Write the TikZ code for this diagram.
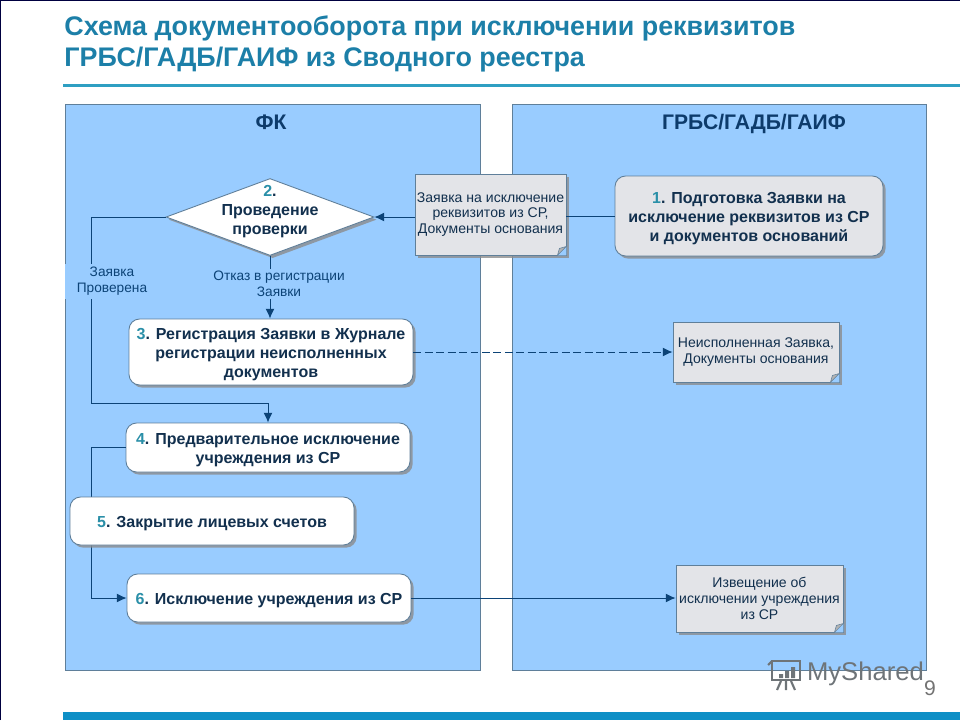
\documentclass[tikz,border=0pt]{standalone}
\usepackage{fontspec}
\setmainfont{Liberation Sans}
\usetikzlibrary{shapes.geometric,shadows,arrows.meta}
\definecolor{lane_blue}{HTML}{99CCFF}
\definecolor{lane_edge}{HTML}{5F7F9A}
\definecolor{title_teal}{HTML}{1C7FA8}
\definecolor{rule_teal}{HTML}{2E9FC2}
\definecolor{bar_blue}{HTML}{0E8FC6}
\definecolor{link_blue}{HTML}{0C4377}
\definecolor{head_blue}{HTML}{0D3B6B}
\definecolor{text_navy}{HTML}{12304E}
\definecolor{num_teal}{HTML}{2A8FA8}
\definecolor{doc_grey}{HTML}{E3E4E8}
\definecolor{mark_grey}{HTML}{6E7478}
\newcommand{\stepno}[1]{\rule{0pt}{9.4pt}{\color{num_teal}#1}.}
\begin{document}
\begin{tikzpicture}[
    % One unit is one pixel of the slide
    x=0.02cm, y=-0.02cm,
    >={Latex[length=5.5pt,width=5pt]},
    % Define styles for the elements
    lane_style/.style={draw=lane_edge, fill=lane_blue, line width=0.5pt},
    lane_head/.style={font=\fontsize{12}{14}\selectfont\bfseries, text=head_blue},
    step_style/.style={draw=lane_edge, fill=white, rounded corners=6pt, line width=0.5pt, align=center,
      inner sep=0pt, text=text_navy, font=\fontsize{9.1}{11}\selectfont\bfseries,
      drop shadow={shadow xshift=1.5pt, shadow yshift=-1.5pt, fill=black!45, opacity=0.8}},
    check_style/.style={diamond, aspect=2.7, draw=lane_edge, fill=white, line width=0.5pt, inner sep=0pt,
      minimum width=4.16cm, minimum height=1.54cm,
      drop shadow={shadow xshift=1.5pt, shadow yshift=-1.5pt, fill=black!45, opacity=0.8}},
    doc_style/.style={draw=lane_edge, fill=doc_grey, line width=0.5pt, align=center, inner sep=0pt,
      text=text_navy, font=\fontsize{8}{8.9}\selectfont,
      drop shadow={shadow xshift=1.5pt, shadow yshift=-1.5pt, fill=black!45, opacity=0.8}},
    link_style/.style={draw=link_blue, line width=0.5pt},
    tag_style/.style={fill=lane_blue, inner sep=1pt, align=center, text=link_blue,
      font=\fontsize{7.8}{9.2}\selectfont}
  ]

  \useasboundingbox (0,0) rectangle (960,720);

  % --- Step 1: Slide frame and title ---
  \draw[black!75!blue, line width=0.6pt] (0.5,720) -- (0.5,0.5) -- (960,0.5);
  \node (title) at (64,44) [anchor=west, align=left, inner sep=0pt, text=title_teal,
    font=\fontsize{15.3}{17.6}\selectfont\bfseries]
    {Схема документооборота при исключении реквизитов\\ГРБС/ГАДБ/ГАИФ из Сводного реестра};
  \fill[rule_teal] (63,84) rectangle (960,86.5);
  \fill[bar_blue] (63,712) rectangle (960,720);

  % --- Step 2: The two lanes ---
  \draw[lane_style] (65,104) rectangle (480,670);
  \draw[lane_style] (512,104) rectangle (926,670);
  \node (lane_fk) at (271,122) [lane_head] {ФК};
  \node (lane_grbs) at (754,122) [lane_head, text depth=0pt] {ГРБС/ГАДБ/ГАИФ};

  % --- Step 3: Process boxes and the check ---
  \node (step1) at (749,216) [step_style, fill=doc_grey, minimum width=5.36cm, minimum height=1.6cm]
    {\stepno{1} Подготовка Заявки на\\исключение реквизитов из СР\\и документов оснований};
  \node (check) at (270,217) [check_style] {};
  \node (check_text) at (270,208.5) [align=center, text=text_navy, font=\fontsize{9.1}{10.8}\selectfont\bfseries]
    {\stepno{2}\\Проведение\\проверки};
  \node (step3) at (271,352) [step_style, minimum width=5.68cm, minimum height=1.32cm]
    {\stepno{3} Регистрация Заявки в Журнале\\регистрации неисполненных\\документов};
  \node (step4) at (268,447.5) [step_style, minimum width=5.68cm, minimum height=0.98cm]
    {\stepno{4} Предварительное исключение\\учреждения из СР};
  \node (step6) at (269,598) [step_style, minimum width=5.68cm, minimum height=0.96cm]
    {\stepno{6} Исключение учреждения из СР};

  % --- Step 4: Documents ---
  \node (doc_request) at (490.5,214.5) [doc_style, minimum width=3.02cm, minimum height=1.62cm]
    {Заявка на исключение\\реквизитов из СР,\\Документы основания};
  \node (doc_unfilled) at (756,352) [doc_style, minimum width=3.32cm, minimum height=1.2cm]
    {Неисполненная Заявка,\\Документы основания};
  \node (doc_notice) at (759.5,598.5) [doc_style, minimum width=3.34cm, minimum height=1.34cm]
    {Извещение об\\исключении учреждения\\из СР};

  % Folded corners of the documents
  \foreach \docname in {doc_request,doc_unfilled,doc_notice} {
    \fill[lane_blue] (\docname.south east) -- ++(-9,0) -- ++(9,-9) -- cycle;
    \filldraw[draw=lane_edge, fill=black!30, line width=0.3pt] (\docname.south east) ++(-9,0) -- ++(2,-7) -- ++(7,-2) -- cycle;
  }

  % --- Step 5: Connectors ---
  \coordinate (bend_a) at (91,217);
  \coordinate (bend_b) at (91,403);
  \coordinate (bend_c) at (91,447.5);
  \coordinate (bend_d) at (91,598);

  \draw[link_style] (step1.west) -- (doc_request.east |- step1.west);
  \draw[link_style, ->] (doc_request.west |- check.east) -- (check.east);
  \draw[link_style, ->] (check.west) -- (bend_a) -- (bend_b) -| (step4.north);
  \draw[link_style, ->] (check.south) -- (step3.north -| check.south);
  \draw[link_style, ->, dash pattern=on 4.5pt off 2pt] (step3.east) -- (doc_unfilled.west);
  \draw[link_style, ->] (step4.west) -- (bend_c) -- (bend_d) -- (step6.west);
  \draw[link_style, ->] (step6.east) -- (doc_notice.west |- step6.east);

  % Labels sit on the lines, the left one also cuts the lane edge
  \node (tag_checked) at (112,281) [tag_style, minimum width=1.9cm, minimum height=0.7cm] {Заявка\\Проверена};
  \node (tag_refused) at (279,284) [tag_style] {Отказ в регистрации\\Заявки};

  % --- Step 6: Box that covers the line on the left ---
  \node (step5) at (212,521) [step_style, minimum width=5.68cm, minimum height=0.96cm]
    {\stepno{5} Закрытие лицевых счетов};

  % --- Step 7: Watermark and page number ---
  \begin{scope}[draw=mark_grey, line width=1.2pt]
    \draw (772,661) rectangle (800,680);
    \draw (768,665) -- (772,661);
    \fill[mark_grey] (779,674) rectangle (783,678) (785,671) rectangle (789,678) (791,667) rectangle (795,678);
    \draw (781,681) -- (777,690) (786,681) -- (786,690) (791,681) -- (795,690);
  \end{scope}
  \node (mark_text) at (865.5,674) [text=mark_grey, inner sep=0pt, font=\fontsize{14.6}{18}\selectfont] {MyShared};
  \node (page_no) at (930,688) [text=black!55, inner sep=0pt, font=\fontsize{12}{14}\selectfont] {9};

\end{tikzpicture}
\end{document}
